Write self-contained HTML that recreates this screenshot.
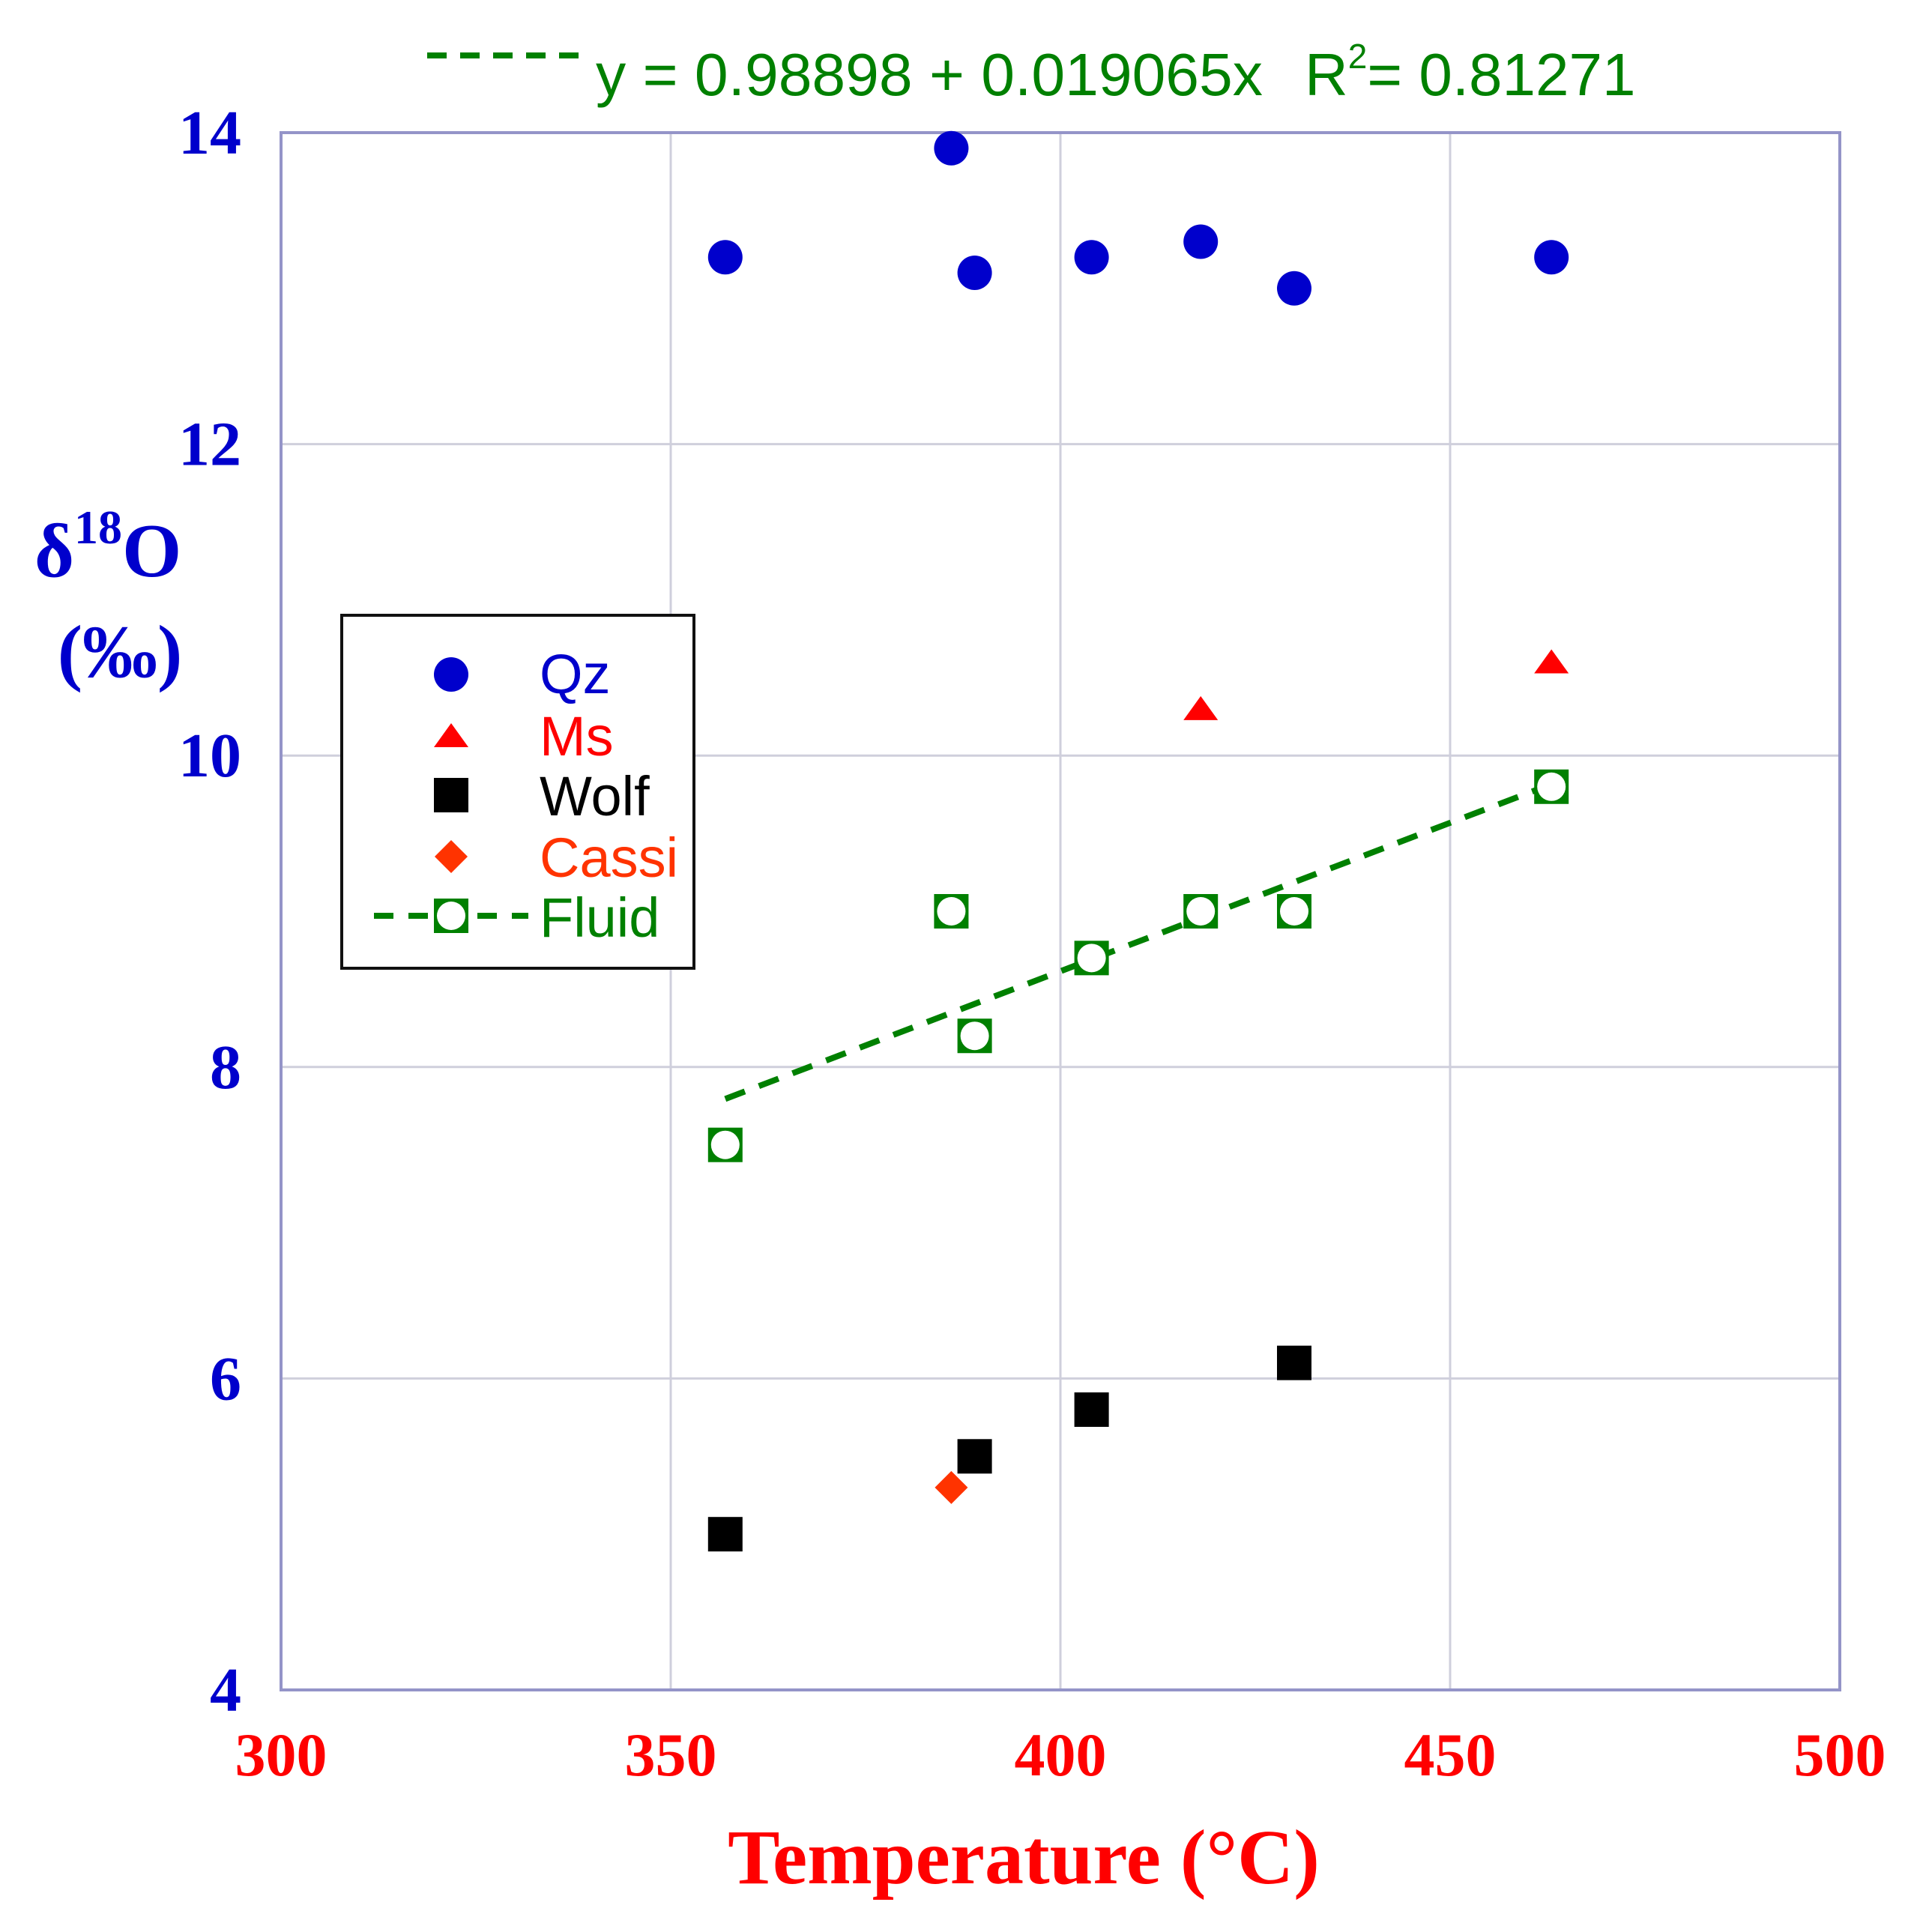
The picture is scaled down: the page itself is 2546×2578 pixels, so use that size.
<!DOCTYPE html>
<html><head><meta charset="utf-8"><style>
html,body{margin:0;padding:0;background:#fff}
svg{display:block}
</style></head><body>
<svg id="chart" width="2546" height="2578" viewBox="0 0 2546 2578" xmlns="http://www.w3.org/2000/svg">
<rect width="2546" height="2578" fill="#fff"/>
<g id="grid"></g>
<rect x="375" y="177" width="2080" height="2078" fill="none" stroke="#9494c8" stroke-width="4"/>
<g id="ticks"></g>
<g id="marks"></g>
<g>
<line x1="570" y1="74" x2="775" y2="74" stroke="#008000" stroke-width="8" stroke-dasharray="26,18"/>
<text x="795" y="127" font-family="Liberation Sans, sans-serif" font-size="80" fill="#008000" textLength="890" lengthAdjust="spacingAndGlyphs">y = 0.98898 + 0.019065x</text>
<text x="1741" y="127" font-family="Liberation Sans, sans-serif" font-size="80" fill="#008000">R<tspan dy="-36" font-size="46">2</tspan><tspan dy="36">= 0.81271</tspan></text>
</g>
<text x="46" y="769" font-family="Liberation Serif, serif" font-weight="bold" font-size="102" fill="#0000cc">δ<tspan dy="-44" font-size="64">18</tspan><tspan dy="44">O</tspan></text>
<text x="160" y="903" text-anchor="middle" font-family="Liberation Serif, serif" font-weight="bold" font-size="100" fill="#0000cc">(‰)</text>
<text x="1366" y="2513" text-anchor="middle" font-family="Liberation Serif, serif" font-weight="bold" font-size="104" fill="#ff0000">Temperature (°C)</text>
<g>
<rect x="456" y="821" width="470" height="471" fill="#fff" stroke="#111" stroke-width="4"/>
<circle cx="602" cy="900" r="23" fill="#0000cc"/>
<text x="720" y="925" font-family="Liberation Sans, sans-serif" font-size="74" fill="#0000cc">Qz</text>
<polygon points="579,997 625,997 602,965" fill="#ff0000"/>
<text x="720" y="1008" font-family="Liberation Sans, sans-serif" font-size="74" fill="#ff0000">Ms</text>
<rect x="579" y="1038" width="46" height="46" fill="#000"/>
<text x="720" y="1088" font-family="Liberation Sans, sans-serif" font-size="74" fill="#000">Wolf</text>
<polygon points="602,1121 624,1143 602,1165 580,1143" fill="#ff3300"/>
<text x="720" y="1170" font-family="Liberation Sans, sans-serif" font-size="74" fill="#ff3300">Cassi</text>
<line x1="499" y1="1222" x2="705" y2="1222" stroke="#008000" stroke-width="8" stroke-dasharray="26,20"/>
<rect x="579" y="1199" width="46" height="46" fill="#008000"/>
<circle cx="602" cy="1222" r="19" fill="#fff"/>
<text x="720" y="1250" font-family="Liberation Sans, sans-serif" font-size="74" fill="#008000">Fluid</text>
</g>
</svg>
<script>
const xTicks=[300,350,400,450,500];
const yTicks=[4,6,8,10,12,14];
const qzT=[357,386,389,404,418,430,463];
const qzV=[13.2,13.9,13.1,13.2,13.3,13.0,13.2];
const msT=[418,463];
const msV=[10.3,10.6];
const wolfT=[357,389,404,430];
const wolfV=[5.0,5.5,5.8,6.1];
const cassiT=[386];
const cassiV=[5.3];
const fluidT=[357,386,389,404,418,430,463];
const fluidV=[7.5,9.0,8.2,8.7,9.0,9.0,9.8];
const fitIntercept=0.98898, fitSlope=0.019065;
const fitRange=[357,463];

const NS='http://www.w3.org/2000/svg';
const X=t=>375+(t-300)/200*2080;
const Y=v=>2255-(v-4)/10*2078;
function mk(tag,attrs,parent){const e=document.createElementNS(NS,tag);for(const k in attrs)e.setAttribute(k,attrs[k]);parent.appendChild(e);return e;}
const grid=document.getElementById('grid'),ticks=document.getElementById('ticks'),marks=document.getElementById('marks');
xTicks.forEach(t=>{
  if(t>300&&t<500){const l=mk('line',{x1:X(t),x2:X(t),y1:177,y2:2255,stroke:'#cfcfdc','stroke-width':3},grid);
  
  }
  const tx=mk('text',{x:X(t),y:2369,'text-anchor':'middle','font-family':'Liberation Serif, serif','font-weight':'bold','font-size':82,fill:'#ff0000'},ticks);
  tx.textContent=t;
  
  
});
yTicks.forEach(v=>{
  if(v>4&&v<14){const l=mk('line',{x1:375,x2:2455,y1:Y(v),y2:Y(v),stroke:'#cfcfdc','stroke-width':3},grid);
  
  }
  const tx=mk('text',{x:322,y:Y(v)+28,'text-anchor':'end','font-family':'Liberation Serif, serif','font-weight':'bold','font-size':84,fill:'#0000cc'},ticks);
  tx.textContent=v;
  
  
});
const tl=mk('line',{x1:X(fitRange[0]),y1:Y(fitIntercept+fitSlope*fitRange[0]),x2:X(fitRange[1]),y2:Y(fitIntercept+fitSlope*fitRange[1]),stroke:'#008000','stroke-width':8,'stroke-dasharray':'28,20'},marks);


qzT.forEach((t,i)=>{const c=mk('circle',{cx:X(t),cy:Y(qzV[i]),r:23,fill:'#0000cc'},marks);
  
  });
msT.forEach((t,i)=>{const x=X(t),y=Y(msV[i]);const p=mk('polygon',{points:`${x-23},${y+15} ${x+23},${y+15} ${x},${y-17}`,fill:'#ff0000'},marks);
  
  });
wolfT.forEach((t,i)=>{const r=mk('rect',{x:X(t)-23,y:Y(wolfV[i])-23,width:46,height:46,fill:'#000'},marks);
  
  });
cassiT.forEach((t,i)=>{const x=X(t),y=Y(cassiV[i]);const p=mk('polygon',{points:`${x},${y-22} ${x+22},${y} ${x},${y+22} ${x-22},${y}`,fill:'#ff3300'},marks);
  
  });
fluidT.forEach((t,i)=>{const x=X(t),y=Y(fluidV[i]);
  const r=mk('rect',{x:x-23,y:y-23,width:46,height:46,fill:'#008000'},marks);
  
  
  const c=mk('circle',{cx:x,cy:y,r:19,fill:'#fff'},marks);
  
  });
</script>
</body></html>
